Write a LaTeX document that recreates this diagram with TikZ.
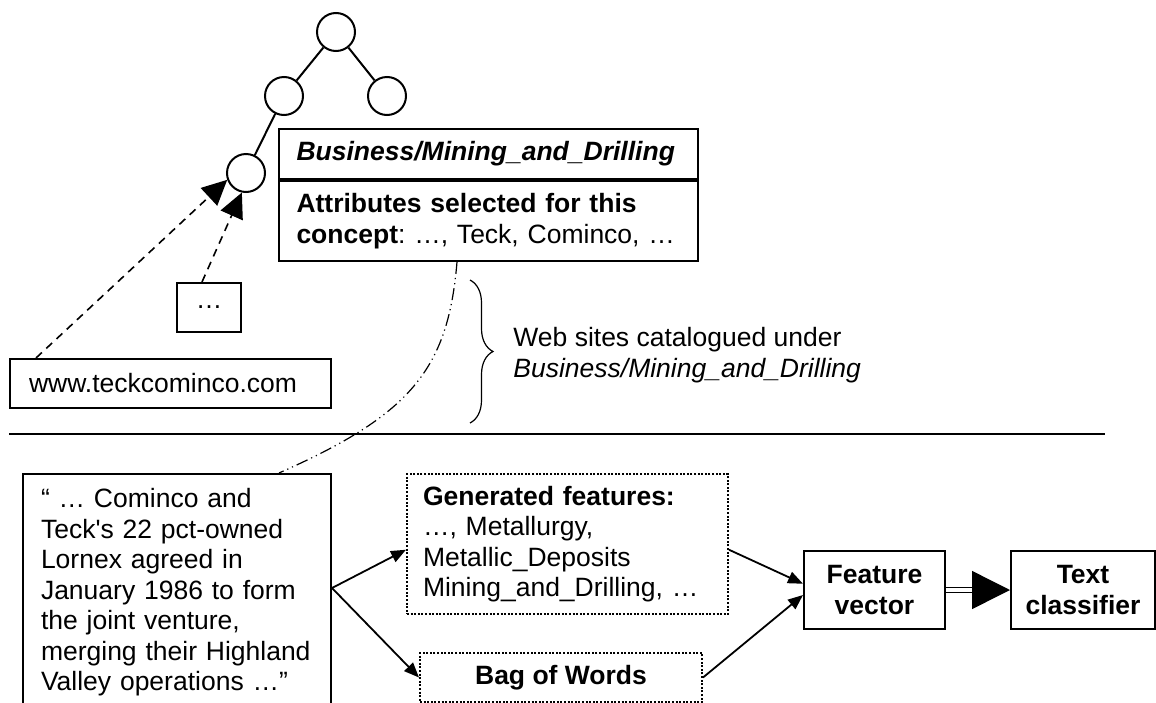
\documentclass[tikz,border=0pt]{standalone}
\usepackage{fontspec}
\setmainfont{Liberation Sans}
\usetikzlibrary{positioning,calc,arrows.meta,decorations.pathreplacing}

\begin{document}
\begin{tikzpicture}[x=0.5pt,y=-0.5pt]
    \tikzstyle{every node}=[font=\fontsize{13.25}{15.25}\selectfont\frenchspacing]
    \tikzstyle{treenode}=[circle, draw, line width=1pt,
                          minimum size=19pt, inner sep=0pt]
    \tikzstyle{plainbox}=[rectangle, draw, line width=1pt,
                          inner xsep=9pt, align=left]
    \tikzstyle{dotbox}=[plainbox, dash pattern=on 1pt off 0.8pt]
    \tikzset{treeedge/.style={line width=1pt}}
    \tikzset{linkstyle/.style={line width=0.8pt, dash pattern=on 4pt off 3pt,
                               -{Triangle[length=12.5pt,width=12pt]}}}
    \tikzset{flowstyle/.style={line width=0.9pt,
                               -{Triangle[length=7.5pt,width=6pt]}}}

    \useasboundingbox (0,0) rectangle (1156,702);
    \clip (0,0) rectangle (1156,702);

    % concept hierarchy
    \node[treenode] (root) at (336,32) {};
    \node[treenode, on grid] (mid)  [below left=32pt and 26pt of root] {};
    \node[treenode, on grid] (side) [below right=32pt and 25.5pt of root] {};
    \node[treenode, on grid] (leaf) [below left=38.5pt and 19pt of mid] {};
    \draw[treeedge] (root) -- (mid)
                    (root) -- (side)
                    (mid) -- (leaf);

    \node[plainbox, anchor=north west, minimum width=209.5pt, inner xsep=8.75pt,
          text width=192pt, minimum height=25pt] (cat) at (278,128)
          {\textbf{\textit{Business/Mining\_and\_Drilling}}};
    \node[plainbox, minimum width=209.5pt, inner xsep=8.75pt, text width=192pt,
          minimum height=40pt] (attrs) [below=0pt of cat]
          {\textbf{Attributes selected for this}\\\textbf{concept}: …, Teck, Cominco, …};

    % web sites
    \node[plainbox, anchor=north west, minimum width=32pt, minimum height=24.5pt,
          align=center, inner xsep=0pt] (more) at (176,282) {…};
    \node[plainbox, anchor=north west, minimum width=160.5pt, text width=141.5pt,
          minimum height=24.5pt] (site) at (9,358) {www.teckcominco.com};

    \draw[linkstyle] ($(site.north west)+(27,0)$) -- (leaf.200);
    \draw[linkstyle] ($(more.north west)+(26,0)$) -- (leaf.258);

    \draw[line width=0.6pt, decorate, decoration={brace, amplitude=11.5pt}]
          (470,280) -- (470,423);
    \node[anchor=west, align=left, inner sep=0pt] (websites) at (513,355)
          {Web sites catalogued under\\\textit{Business/Mining\_and\_Drilling}};

    \draw[line width=1pt] (9,434) -- (1105,434);

    % document side
    \node[plainbox, anchor=north west, minimum width=154pt, text width=136pt,
          inner ysep=7.3pt] (quote) at (22,473)
          {“ … Cominco and\\Teck\textquotesingle s 22 pct-owned\\Lornex agreed in\\
           January 1986 to form\\the joint venture,\\merging their Highland\\
           Valley operations …”};

    \node[dotbox, anchor=north west, minimum width=160.5pt, text width=144.5pt,
          inner xsep=8pt, inner ysep=6pt, minimum height=70pt] (feat) at (406,473)
          {\textbf{Generated features:}\\…, Metallurgy,\\Metallic\_Deposits\\
           Mining\_and\_Drilling, …};
    \node[dotbox, anchor=north west, minimum width=141pt, minimum height=24.5pt,
          align=center] (bag) at (419,652) {\textbf{Bag of Words}};

    \node[plainbox, anchor=north west, minimum width=70.5pt, minimum height=39pt,
          align=center, inner xsep=0pt] (fvec) at (803,550)
          {\textbf{Feature}\\\textbf{vector}};
    \node[plainbox, minimum width=72pt, minimum height=39pt, align=center,
          inner xsep=0pt] (tclass) [right=32pt of fvec]
          {\textbf{Text}\\\textbf{classifier}};

    \coordinate (fork) at ($(quote.north east)+(0,115)$);
    \draw[flowstyle] (fork) -- (feat.182);
    \draw[flowstyle] (fork) -- (bag.west);
    \draw[flowstyle] (feat.358) -- (fvec.175);
    \draw[flowstyle] (bag.east) -- (fvec.184);
    \draw[line width=0.7pt, double distance=1.75pt,
          -{Triangle[length=19pt,width=19pt]}] (fvec.east) -- (tclass.west);

    \draw[line width=0.6pt, dash pattern=on 6pt off 2pt on 0.6pt off 2pt on 0.6pt off 2pt]
          ($(attrs.south west)+(179,0)$) .. controls (448,370) and (410,415)
          .. ($(quote.north west)+(257,0)$);
\end{tikzpicture}
\end{document}
